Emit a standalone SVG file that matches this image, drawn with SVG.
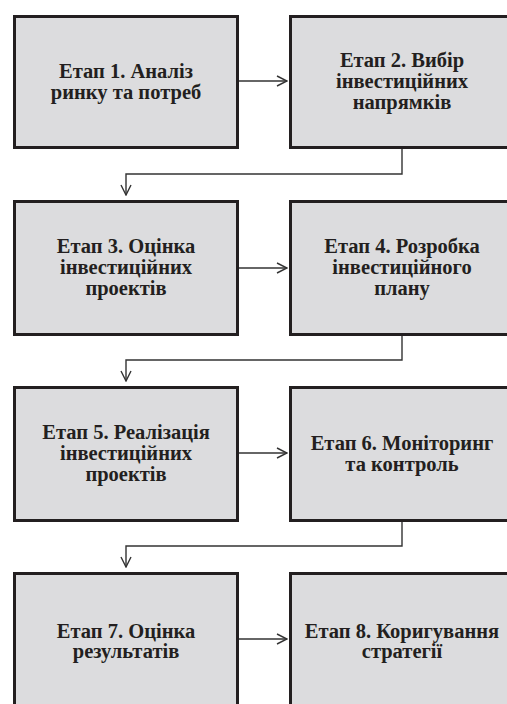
<svg xmlns="http://www.w3.org/2000/svg" width="507" height="704" viewBox="0 0 507 704">
<defs>
<style>
.box{fill:#dcdcde;stroke:#231f20;stroke-width:3}
.t{font-family:"Liberation Serif","Times New Roman",serif;font-weight:bold;font-size:20.5px;fill:#231f20;text-anchor:middle}
.c{fill:none;stroke:#333;stroke-width:1.4}
</style>
<marker id="ah" viewBox="0 0 12 12" refX="11" refY="6" markerWidth="12" markerHeight="12" markerUnits="userSpaceOnUse" orient="auto">
<path d="M1,1 L11,6 L1,11" fill="none" stroke="#333" stroke-width="1.4"/>
</marker>
</defs>
<rect width="507" height="704" fill="#fff"/>
<g id="connectors">
<path class="c" d="M239,81 H287" marker-end="url(#ah)"/>
<path class="c" d="M402,149 V174 H126 V195" marker-end="url(#ah)"/>
<path class="c" d="M239,268 H287" marker-end="url(#ah)"/>
<path class="c" d="M402,335 V360 H126 V381" marker-end="url(#ah)"/>
<path class="c" d="M239,453 H287" marker-end="url(#ah)"/>
<path class="c" d="M402,521 V546 H126 V567" marker-end="url(#ah)"/>
<path class="c" d="M239,639 H287" marker-end="url(#ah)"/>
</g>
<g id="n1"><rect class="box" x="14.5" y="16.5" width="223" height="131"/>
<text class="t" x="126" y="77.5">Етап 1. Аналіз</text><text class="t" x="126" y="98.5">ринку та потреб</text></g>
<g id="n2"><rect class="box" x="290.5" y="16.5" width="223" height="131"/>
<text class="t" x="402" y="66.5">Етап 2. Вибір</text><text class="t" x="402" y="87.5">інвестиційних</text><text class="t" x="402" y="108.5">напрямків</text></g>
<g id="n3"><rect class="box" x="14.5" y="201.5" width="223" height="133"/>
<text class="t" x="126" y="253">Етап 3. Оцінка</text><text class="t" x="126" y="274">інвестиційних</text><text class="t" x="126" y="295">проектів</text></g>
<g id="n4"><rect class="box" x="290.5" y="201.5" width="223" height="133"/>
<text class="t" x="402" y="253">Етап 4. Розробка</text><text class="t" x="402" y="274">інвестиційного</text><text class="t" x="402" y="295">плану</text></g>
<g id="n5"><rect class="box" x="14.5" y="387.5" width="223" height="133"/>
<text class="t" x="126" y="439">Етап 5. Реалізація</text><text class="t" x="126" y="460">інвестиційних</text><text class="t" x="126" y="481">проектів</text></g>
<g id="n6"><rect class="box" x="290.5" y="387.5" width="223" height="133"/>
<text class="t" x="402" y="449.5">Етап 6. Моніторинг</text><text class="t" x="402" y="470.5">та контроль</text></g>
<g id="n7"><rect class="box" x="14.5" y="573.5" width="223" height="133"/>
<text class="t" x="126" y="637.5">Етап 7. Оцінка</text><text class="t" x="126" y="657.5">результатів</text></g>
<g id="n8"><rect class="box" x="290.5" y="573.5" width="223" height="133"/>
<text class="t" x="402" y="637.5">Етап 8. Коригування</text><text class="t" x="402" y="657.5">стратегії</text></g>
</svg>
